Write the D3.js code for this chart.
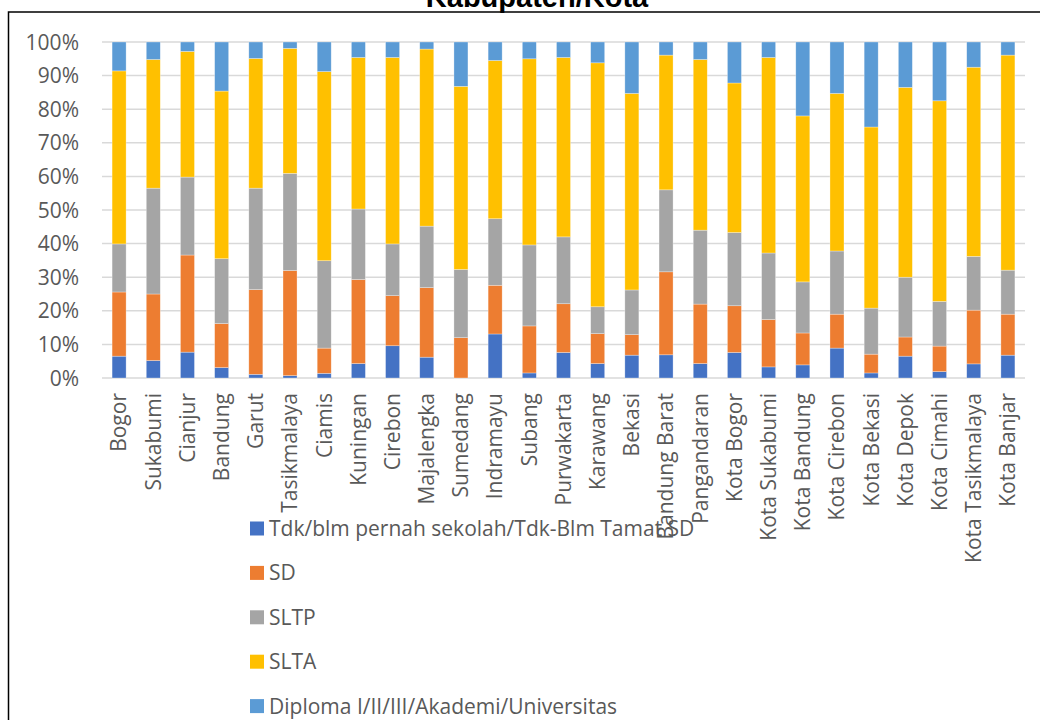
<!DOCTYPE html>
<html>
<head>
<meta charset="utf-8">
<script src="https://cdn.jsdelivr.net/npm/d3@7"></script>
<style>
  body { margin: 0; background: #fff; }
  svg { display: block; }
</style>
</head>
<body>
<div id="chart"></div>
<script>
// kabupaten / kota
const categories = ['Bogor', 'Sukabumi', 'Cianjur', 'Bandung', 'Garut', 'Tasikmalaya', 'Ciamis',
  'Kuningan', 'Cirebon', 'Majalengka', 'Sumedang', 'Indramayu', 'Subang', 'Purwakarta', 'Karawang',
  'Bekasi', 'Bandung Barat', 'Pangandaran', 'Kota Bogor', 'Kota Sukabumi', 'Kota Bandung',
  'Kota Cirebon', 'Kota Bekasi', 'Kota Depok', 'Kota Cimahi', 'Kota Tasikmalaya', 'Kota Banjar'];

// persentase per jenjang pendidikan
const tdkSekolah = [6.5, 5.2, 7.7, 3.1, 1.1, 0.7, 1.4, 4.3, 9.6, 6.2, 0.0, 13.1, 1.5, 7.6, 4.3,
  6.8, 6.9, 4.3, 7.6, 3.3, 3.9, 8.9, 1.5, 6.5, 1.9, 4.2, 6.8];
const sd = [19.1, 19.8, 28.9, 13.1, 25.2, 31.3, 7.5, 25.0, 14.9, 20.7, 12.0, 14.5, 14.0, 14.5, 8.9,
  6.1, 24.7, 17.7, 13.9, 14.1, 9.5, 10.1, 5.6, 5.7, 7.6, 16.0, 12.2];
const sltp = [14.3, 31.5, 23.2, 19.3, 30.2, 28.9, 26.0, 21.0, 15.4, 18.3, 20.3, 19.8, 24.1, 19.9, 8.0,
  13.3, 24.4, 22.0, 21.8, 19.8, 15.2, 18.8, 13.7, 17.8, 13.3, 16.0, 13.1];
const slta = [51.5, 38.3, 37.4, 49.9, 38.6, 37.2, 56.3, 45.1, 55.5, 52.7, 54.5, 47.1, 55.4, 53.4, 72.6,
  58.5, 40.1, 50.8, 44.5, 58.2, 49.4, 46.9, 53.9, 56.5, 59.7, 56.3, 64.0];
const diploma = [8.6, 5.2, 2.8, 14.6, 4.9, 1.9, 8.8, 4.6, 4.6, 2.1, 13.2, 5.5, 5.0, 4.6, 6.2,
  15.3, 3.9, 5.2, 12.2, 4.6, 22.0, 15.3, 25.3, 13.5, 17.5, 7.5, 3.9];

const seriesNames = ['Tdk/blm pernah sekolah/Tdk-Blm Tamat SD', 'SD', 'SLTP', 'SLTA',
  'Diploma I/II/III/Akademi/Universitas'];
const seriesColors = ['#4472C4', '#ED7D31', '#A5A5A5', '#FFC000', '#5B9BD5'];
const yTicks = [0, 10, 20, 30, 40, 50, 60, 70, 80, 90, 100];

const width = 1040;
const height = 720;
const font = '"Open Sans", "Noto Sans", sans-serif';
const fontSize = '21px';
const textColor = '#595959';

const allSeries = [tdkSekolah, sd, sltp, slta, diploma];
const rows = categories.map((c, i) => {
  const r = { name: c };
  seriesNames.forEach((s, k) => { r[s] = allSeries[k][i]; });
  return r;
});

const stacked = d3.stack().keys(seriesNames).offset(d3.stackOffsetExpand)(rows);

const svg = d3.select('#chart')
  .append('svg')
  .attr('width', width)
  .attr('height', height);

// bingkai chart
svg.append('rect')
  .attr('x', 8.5)
  .attr('y', 12)
  .attr('width', 1060)
  .attr('height', 740)
  .attr('fill', 'none')
  .attr('stroke', '#000')
  .attr('stroke-width', 1.5);

// judul (terpotong di atas)
svg.append('text')
  .attr('x', 537)
  .attr('y', 7)
  .attr('text-anchor', 'middle')
  .style('font-family', '"Liberation Sans", Arial, sans-serif')
  .style('font-weight', 'bold')
  .style('font-size', '29px')
  .style('fill', '#000')
  .text('Kabupaten/Kota');

const x = d3.scaleBand()
  .domain(categories)
  .range([102, 1025])
  .paddingInner(0.59)
  .paddingOuter(0.295);

const y = d3.scaleLinear()
  .domain([0, 1])
  .range([378, 42]);

// garis grid
svg.append('g')
  .selectAll('line')
  .data(yTicks)
  .enter()
  .append('line')
  .attr('x1', 102)
  .attr('x2', 1025)
  .attr('y1', (d) => y(d / 100))
  .attr('y2', (d) => y(d / 100))
  .attr('stroke', '#D9D9D9')
  .attr('stroke-width', 1.5);

// label sumbu y
svg.append('g')
  .selectAll('text')
  .data(yTicks)
  .enter()
  .append('text')
  .attr('x', 79)
  .attr('y', (d) => y(d / 100))
  .attr('dy', '0.36em')
  .attr('text-anchor', 'end')
  .style('font-family', font)
  .style('font-size', fontSize)
  .style('fill', textColor)
  .text((d) => d + '%');

// batang bertumpuk
svg.append('g')
  .selectAll('g')
  .data(stacked)
  .enter()
  .append('g')
  .attr('fill', (d, i) => seriesColors[i])
  .selectAll('rect')
  .data((d) => d)
  .enter()
  .append('rect')
  .attr('x', (d) => x(d.data.name))
  .attr('width', x.bandwidth())
  .attr('y', (d) => y(d[1]))
  .attr('height', (d) => y(d[0]) - y(d[1]))
  .attr('stroke', '#fff')
  .attr('stroke-opacity', 0.5)
  .attr('stroke-width', 0.6);

// label sumbu x
svg.append('g')
  .selectAll('text')
  .data(categories)
  .enter()
  .append('text')
  .attr('transform', (d) => `translate(${x(d) + x.bandwidth() / 2},393) rotate(-90)`)
  .attr('dy', '0.35em')
  .attr('text-anchor', 'end')
  .style('font-family', font)
  .style('font-size', fontSize)
  .style('fill', textColor)
  .text((d) => d);

// legenda
const legend = svg.append('g')
  .selectAll('g')
  .data(seriesNames)
  .enter()
  .append('g')
  .attr('transform', (d, i) => `translate(250,${528.5 + i * 44.4})`);

legend.append('rect')
  .attr('x', 0)
  .attr('y', -7)
  .attr('width', 14)
  .attr('height', 14)
  .attr('fill', (d, i) => seriesColors[i]);

legend.append('text')
  .attr('x', 19)
  .attr('y', 0)
  .attr('dy', '0.36em')
  .style('font-family', font)
  .style('font-size', fontSize)
  .style('fill', textColor)
  .text((d) => d);
</script>
</body>
</html>
